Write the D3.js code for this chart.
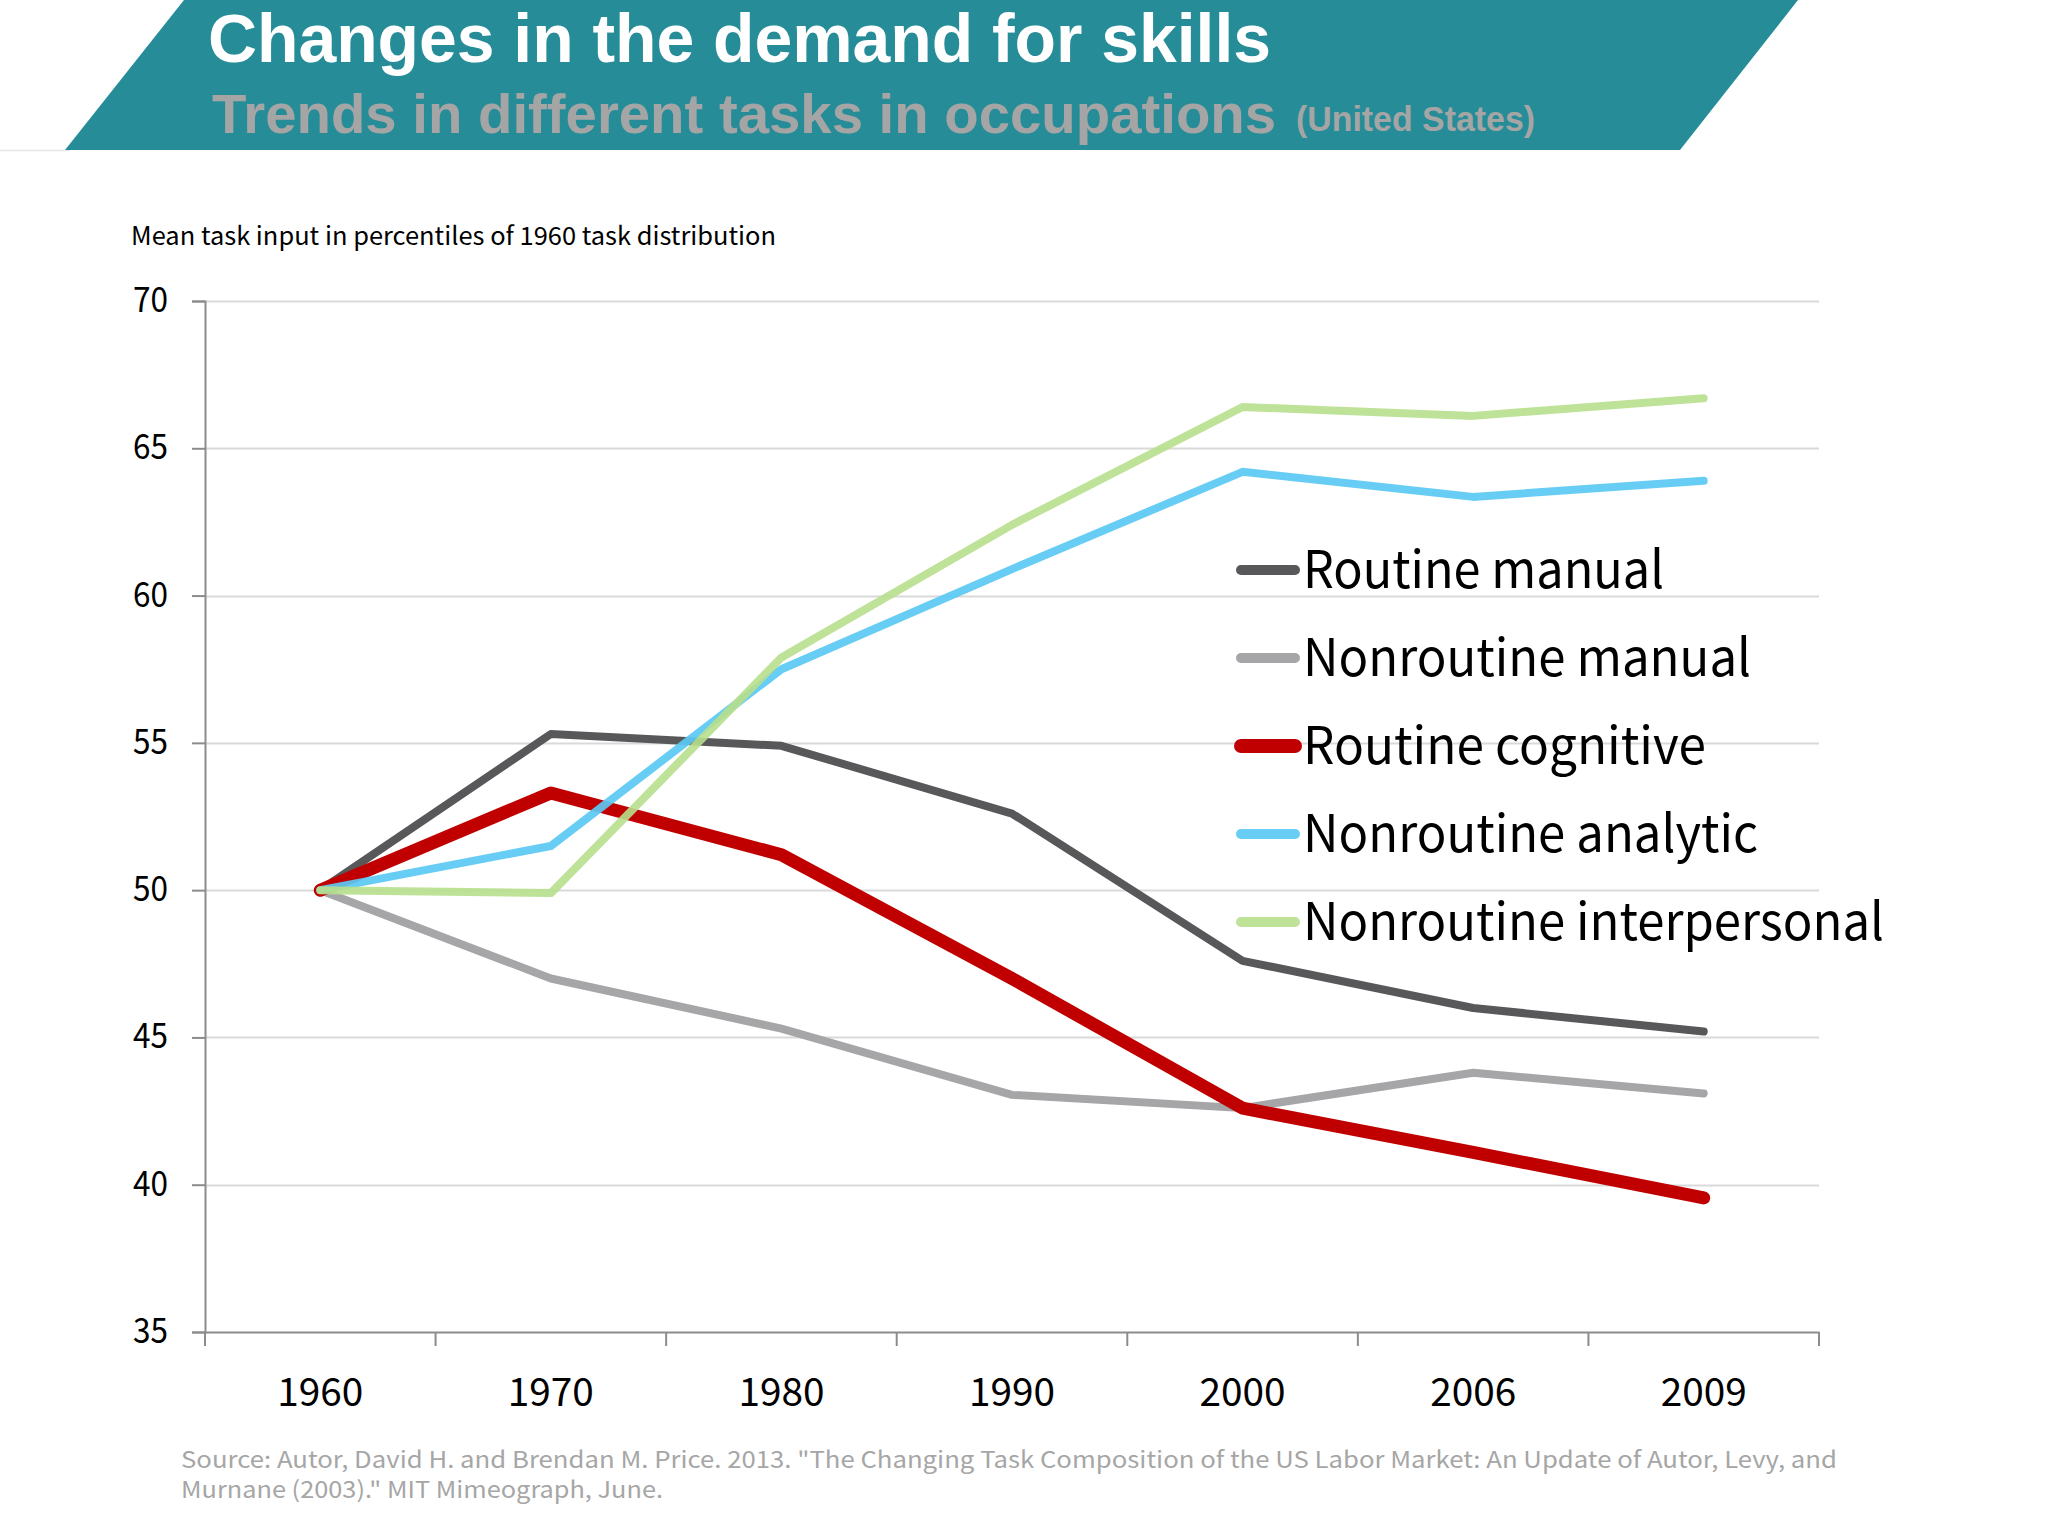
<!DOCTYPE html>
<html>
<head>
<meta charset="utf-8">
<script src="https://cdn.jsdelivr.net/npm/d3@7"></script>
<style>
  html, body { margin: 0; padding: 0; background: #ffffff; }
  svg { display: block; }
</style>
</head>
<body>
<svg id="chart" width="2048" height="1536"></svg>
<script>
// ---------------- DATA ----------------
const years = ["1960", "1970", "1980", "1990", "2000", "2006", "2009"];
const seriesNames = ["Routine manual", "Nonroutine manual", "Routine cognitive", "Nonroutine analytic", "Nonroutine interpersonal"];
const routineManual          = [50, 55.3, 54.9, 52.6, 47.6, 46.0, 45.2];
const nonroutineManual       = [50, 47.0, 45.3, 43.05, 42.6, 43.8, 43.1];
const routineCognitive       = [50, 53.3, 51.2, 47.0, 42.6, 41.1, 39.55];
const nonroutineAnalytic     = [50, 51.5, 57.5, 60.9, 64.2, 63.35, 63.9];
const nonroutineInterpersonal= [50, 49.9, 57.9, 62.4, 66.4, 66.1, 66.7];
const yTicks = [35, 40, 45, 50, 55, 60, 65, 70];

const titleText = "Changes in the demand for skills";
const subtitleText = "Trends in different tasks in occupations";
const subtitleNote = "(United States)";
const yAxisLabel = "Mean task input in percentiles of 1960 task distribution";
const sourceLine1 = "Source: Autor, David H. and Brendan M. Price. 2013. \"The Changing Task Composition of the US Labor Market: An Update of Autor, Levy, and";
const sourceLine2 = "Murnane (2003).\" MIT Mimeograph, June.";

// ---------------- STYLES ----------------
const styles = [
  { color: "#58585a", width: 8,  opacity: 1,    legendWidth: 10 },
  { color: "#a6a6a8", width: 8,  opacity: 1,    legendWidth: 10 },
  { color: "#c00000", width: 13, opacity: 1,    legendWidth: 14 },
  { color: "#5bc9f3", width: 8,  opacity: 0.92, legendWidth: 10 },
  { color: "#b7df8c", width: 8,  opacity: 0.9,  legendWidth: 10 }
];
const allSeries = [routineManual, nonroutineManual, routineCognitive, nonroutineAnalytic, nonroutineInterpersonal];

const svg = d3.select("#chart");
const bodyFont = "'Noto Sans CJK KR', 'Noto Sans', sans-serif";
const headFont = "'Liberation Sans', Arial, sans-serif";

function fit(sel, w) {
  sel.attr("textLength", w).attr("lengthAdjust", "spacingAndGlyphs");
  return sel;
}

// ---------------- BANNER ----------------
svg.append("line").attr("x1", 0).attr("x2", 70).attr("y1", 150.5).attr("y2", 150.5)
  .attr("stroke", "#e6e6e6").attr("stroke-width", 1.5);
svg.append("polygon")
  .attr("points", "65,150 184,0 1798,0 1680,150")
  .attr("fill", "#268d98");
fit(svg.append("text").attr("x", 208).attr("y", 62)
  .attr("font-family", headFont).attr("font-weight", "bold").attr("font-size", 68)
  .attr("fill", "#ffffff").text(titleText), 1063);
fit(svg.append("text").attr("x", 212).attr("y", 133)
  .attr("font-family", headFont).attr("font-weight", "bold").attr("font-size", 56)
  .attr("fill", "#a5a5a5").text(subtitleText), 1064);
fit(svg.append("text").attr("x", 1296).attr("y", 131)
  .attr("font-family", headFont).attr("font-weight", "bold").attr("font-size", 35)
  .attr("fill", "#a5a5a5").text(subtitleNote), 239);

// ---------------- AXIS TITLE ----------------
fit(svg.append("text").attr("x", 131).attr("y", 245)
  .attr("font-family", bodyFont).attr("font-size", 25)
  .attr("fill", "#000000").text(yAxisLabel), 645);

// ---------------- SCALES ----------------
const x = d3.scaleBand().domain(years).range([205, 1819]).paddingInner(0).paddingOuter(0);
const y = d3.scaleLinear().domain([35, 70]).range([1332, 301]);
const cx = d => x(d) + x.bandwidth() / 2;

// gridlines
svg.append("g").selectAll("line").data(yTicks.filter(t => t !== 35)).join("line")
  .attr("x1", 205).attr("x2", 1819)
  .attr("y1", d => Math.round(y(d)) + 0.5).attr("y2", d => Math.round(y(d)) + 0.5)
  .attr("stroke", "#d9d9d9").attr("stroke-width", 2);

// y axis
const yAxis = svg.append("g").attr("transform", "translate(205,0)")
  .call(d3.axisLeft(y).tickValues(yTicks).tickSize(13).tickPadding(24).tickFormat(d3.format("d")));
yAxis.select(".domain").attr("stroke", "#8c8c8c").attr("stroke-width", 2);
yAxis.selectAll(".tick line").attr("stroke", "#8c8c8c").attr("stroke-width", 2);
yAxis.selectAll(".tick text").attr("font-family", bodyFont).attr("font-size", 35)
  .attr("fill", "#000").attr("dy", "0.3em")
  .each(function() { fit(d3.select(this), 35); });

// x axis (labels centred in bands, ticks at band boundaries)
const xAxis = svg.append("g").attr("transform", "translate(0,1332)")
  .call(d3.axisBottom(x).tickSize(0).tickPadding(46));
xAxis.select(".domain").attr("stroke", "#8c8c8c").attr("stroke-width", 2);
xAxis.selectAll(".tick text").attr("font-family", bodyFont).attr("font-size", 39)
  .attr("fill", "#000")
  .each(function() { fit(d3.select(this), 86); });
const bounds = years.map(d => x(d)).concat([x(years[years.length - 1]) + x.bandwidth()]);
xAxis.selectAll("line.bound").data(bounds).join("line").attr("class", "bound")
  .attr("x1", d => d).attr("x2", d => d).attr("y1", 0).attr("y2", 14)
  .attr("stroke", "#8c8c8c").attr("stroke-width", 2);

// ---------------- LINES ----------------
const line = d3.line().x((d, i) => cx(years[i])).y(d => y(d));
svg.append("g").selectAll("path").data(allSeries).join("path")
  .attr("d", d => line(d))
  .attr("fill", "none")
  .attr("stroke", (d, i) => styles[i].color)
  .attr("stroke-width", (d, i) => styles[i].width)
  .attr("stroke-opacity", (d, i) => styles[i].opacity)
  .attr("stroke-linejoin", "round")
  .attr("stroke-linecap", "round");

// ---------------- LEGEND ----------------
const legendWidths = [361, 448, 403, 455, 581];
const lg = svg.append("g").selectAll("g").data(seriesNames).join("g")
  .attr("transform", (d, i) => `translate(0,${570 + i * 88})`);
lg.append("line").attr("x1", 1241).attr("x2", 1295).attr("y1", 0).attr("y2", 0)
  .attr("stroke", (d, i) => styles[i].color)
  .attr("stroke-opacity", (d, i) => styles[i].opacity)
  .attr("stroke-width", (d, i) => styles[i].legendWidth)
  .attr("stroke-linecap", "round");
lg.append("text").attr("x", 1303).attr("y", 18)
  .attr("font-family", bodyFont).attr("font-size", 52).attr("fill", "#000")
  .text(d => d)
  .each(function(d, i) { fit(d3.select(this), legendWidths[i]); });

// ---------------- SOURCE ----------------
fit(svg.append("text").attr("x", 181).attr("y", 1468)
  .attr("font-family", bodyFont).attr("font-size", 23).attr("fill", "#a6a6a6")
  .text(sourceLine1), 1656);
fit(svg.append("text").attr("x", 181).attr("y", 1498)
  .attr("font-family", bodyFont).attr("font-size", 23).attr("fill", "#a6a6a6")
  .text(sourceLine2), 482);
</script>
</body>
</html>
